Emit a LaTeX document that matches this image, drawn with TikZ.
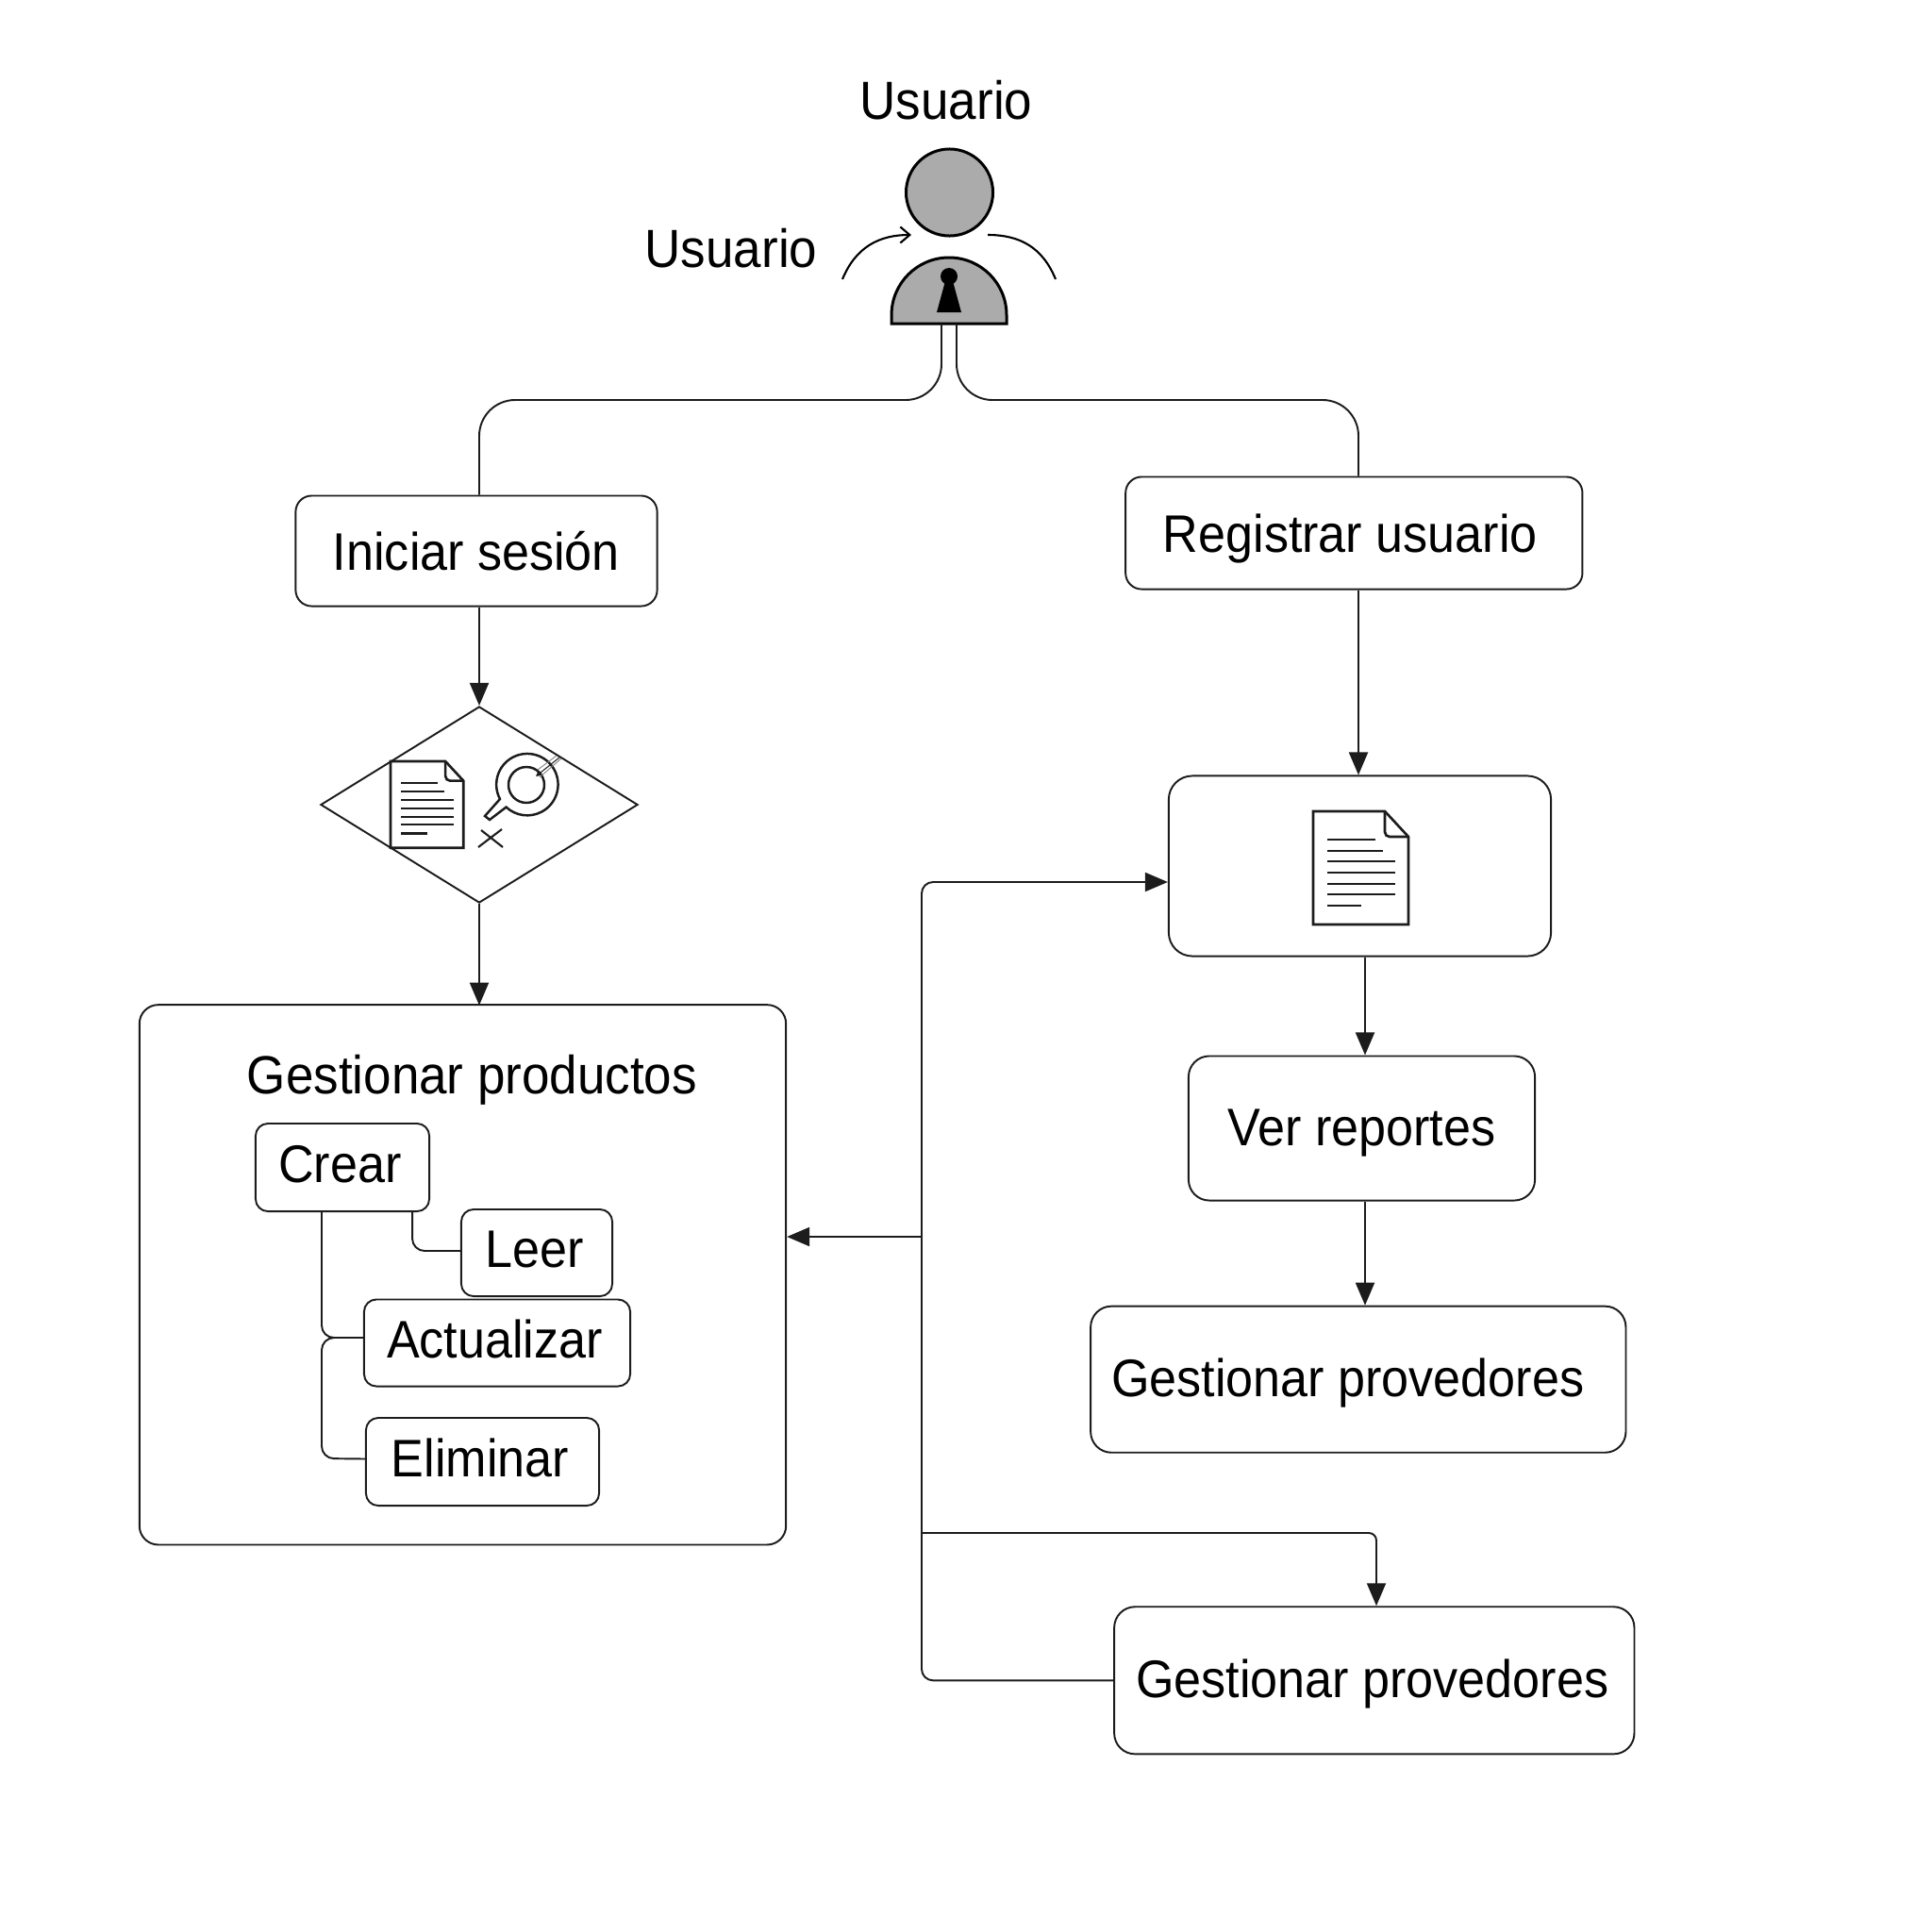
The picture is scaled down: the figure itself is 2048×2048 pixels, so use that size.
\documentclass[tikz,border=0pt]{standalone}
\usepackage{fontspec}
\setmainfont[FakeStretch=0.93]{Liberation Sans}
\usetikzlibrary{arrows.meta,shapes.geometric}
\definecolor{tinta}{HTML}{1C1C1C}
\definecolor{relleno}{HTML}{ABABAB}
\tikzset{
	>={Triangle[length=.24cm,width=.2cm]},
	caja/.style={draw=tinta,line width=.55pt,rounded corners=.17cm,inner sep=0pt,
		text height=.44cm,text depth=.13cm},
	cajagrande/.style={caja,rounded corners=.22cm,text height=.5cm},
	rotulo/.style={anchor=base,inner sep=0pt,font=\fontsize{16.2}{18}\selectfont},
	conector/.style={draw=tinta,line width=.55pt},
	docicono/.pic={
		\draw[tinta,line width=.75pt,line join=miter,fill=white] (0,0) -- (76,0) -- (101,27) -- (101,120) -- (0,120) -- cycle;
		\draw[tinta,line width=.75pt,rounded corners=.05cm] (76,0) -- (76,27) -- (101,27);
		\foreach \yy/\xx in {30/66,42/74,53/87,65/87,77/87,88/87,100/51}
			\draw[tinta,line width=.6pt] (15,\yy) -- (\xx,\yy);
	}
}

\begin{document}
\begin{tikzpicture}[x=.01cm,y=-.01cm,font=\fontsize{15.93}{18}\selectfont,text=black]
	\useasboundingbox (0,0) rectangle (2048,2048);

	\node[rotulo] (usuario1) at (1003,126) {Usuario};
	\node[rotulo] (usuario2) at (775,283) {Usuario};

	\node[circle,draw=black,line width=.85pt,fill=relleno,minimum size=.92cm,inner sep=0pt] (cabeza) at (1006.5,204) {};
	\draw[black,line width=.85pt,fill=relleno] (945,343) -- (945,334) arc[start angle=180,end angle=360,radius=61] -- (1067,343) -- cycle;
	\fill[black] (1006,293) circle[radius=9];
	\fill[black] (1002,298) -- (1010,298) -- (1019,331) -- (993,331) -- cycle;
	\coordinate (torso) at (1006,343);
	\coordinate (brazoi) at (893,296);
	\coordinate (hombroi) at (966,249);
	\coordinate (brazod) at (1119,296);
	\coordinate (hombrod) at (1047,249);
	\draw[black,line width=.6pt,-{Straight Barb[length=.1cm,width=.17cm]}] (brazoi) .. controls (907,262) and (932,249) .. (hombroi);
	\draw[black,line width=.6pt] (brazod) .. controls (1105,262) and (1081,249) .. (hombrod);

	\node[caja,text height=.54cm,minimum width=3.83cm,minimum height=1.17cm] (iniciar) at (505,584) {Iniciar sesión};
	\node[caja,text height=.54cm,minimum width=4.84cm,minimum height=1.19cm] (registrar) at (1435.3,565) {\kern-.08cm Registrar usuario};

	\node[diamond,draw=tinta,line width=.55pt,aspect=1.615,minimum width=3.36cm,minimum height=2.08cm,inner sep=0pt] (rombo) at (508,853) {};
	\pic[scale=.765] at (414,807) {docicono};
	\draw[tinta,line width=.7pt] (530,847) arc[start angle=152,end angle=493,radius=32.7] -- (519,869) -- (514,865) -- cycle;
	\draw[tinta,line width=.7pt] (558,832) circle[radius=19];
	\draw[gray,line width=.25pt] (590,801) -- (570,816);
	\draw[gray,line width=.25pt] (595,804) -- (572,824);
	\draw[tinta,line width=.3pt,-{Triangle[length=.05cm,width=.05cm]}] (593,803) -- (568,823);
	\draw[tinta,line width=.6pt] (510,880) -- (533,898);
	\draw[tinta,line width=.6pt] (507,898) -- (532,879);

	\node[caja,rounded corners=.2cm,minimum width=6.85cm,minimum height=5.72cm] (productos) at (490.5,1351.3) {};
	\node[rotulo] (titulo) at (500.5,1159) {Gestionar productos};
	\node[caja,rounded corners=.13cm,minimum width=1.84cm,minimum height=.93cm] (crear) at (363,1237.5) {\kern-.05cm Crear};
	\node[caja,rounded corners=.13cm,minimum width=1.6cm,minimum height=.92cm] (leer) at (569,1328) {\kern-.05cm Leer};
	\node[caja,rounded corners=.13cm,minimum width=2.82cm,minimum height=.92cm] (actualizar) at (527,1423.5) {\kern-.05cm Actualizar};
	\node[caja,rounded corners=.13cm,minimum width=2.47cm,minimum height=.93cm] (eliminar) at (511.5,1549.5) {\kern-.05cm Eliminar};

	\node[caja,rounded corners=.25cm,minimum width=4.05cm,minimum height=1.91cm] (documento) at (1441.5,918) {};
	\pic at (1392,860) {docicono};
	\node[cajagrande,minimum width=3.67cm,minimum height=1.53cm] (reportes) at (1443.5,1196) {Ver reportes};
	\node[cajagrande,minimum width=5.67cm,minimum height=1.55cm] (provedores1) at (1439.8,1462.2) {\kern-.22cm Gestionar provedores};
	\node[cajagrande,minimum width=5.51cm,minimum height=1.56cm] (provedores2) at (1456.8,1781.3) {\kern-.04cm Gestionar provedores};

	\coordinate (tronco) at (977,1311);
	\coordinate (ramal) at (977,1625);
	\coordinate (bajada) at (1440,821);

	\begin{scope}[conector,every path/.style={conector}]
		\draw[rounded corners=.38cm] ([xshift=-.08cm]torso) -- ([xshift=-.08cm]torso |- 0,424) -- (rombo.north |- 0,424) -- (rombo.north |- iniciar.north);
		\draw[rounded corners=.38cm] ([xshift=.08cm]torso) -- ([xshift=.08cm]torso |- 0,424) -- (bajada |- 0,424) -- (bajada |- registrar.north);
		\draw[->] (rombo.north |- iniciar.south) -- (rombo.north);
		\draw[->] (rombo.south) -- ([yshift=-.015cm]rombo.south |- productos.north);
		\draw[->] (bajada |- registrar.south) -- (bajada |- documento.north);
		\draw[->] ([xshift=.055cm]documento.south) -- ([xshift=.055cm]documento.south |- reportes.north);
		\draw[->] ([xshift=.035cm]reportes.south) -- ([xshift=.035cm]reportes.south |- provedores1.north);
		\draw[->] (tronco) -- (productos.east |- tronco);
		\draw[->,rounded corners=.12cm] (provedores2.west) -- (tronco |- provedores2.west) -- (tronco |- 0,935) -- (documento.west |- 0,935);
		\draw[->,rounded corners=.08cm] (ramal) -- (1459,1625) -- (1459,1625 |- provedores2.north);
		\draw[rounded corners=.13cm] ([xshift=-.22cm]crear.south) -- ([xshift=-.22cm]crear.south |- 0,1418) -- ([yshift=.055cm]actualizar.west);
		\draw[rounded corners=.13cm] ([xshift=.74cm]crear.south) |- ([yshift=.02cm]leer.west);
		\draw[rounded corners=.13cm] ([yshift=.03cm]eliminar.west) -- (341,1546) -- (341,1418) -- (355,1418);
	\end{scope}
\end{tikzpicture}
\end{document}
